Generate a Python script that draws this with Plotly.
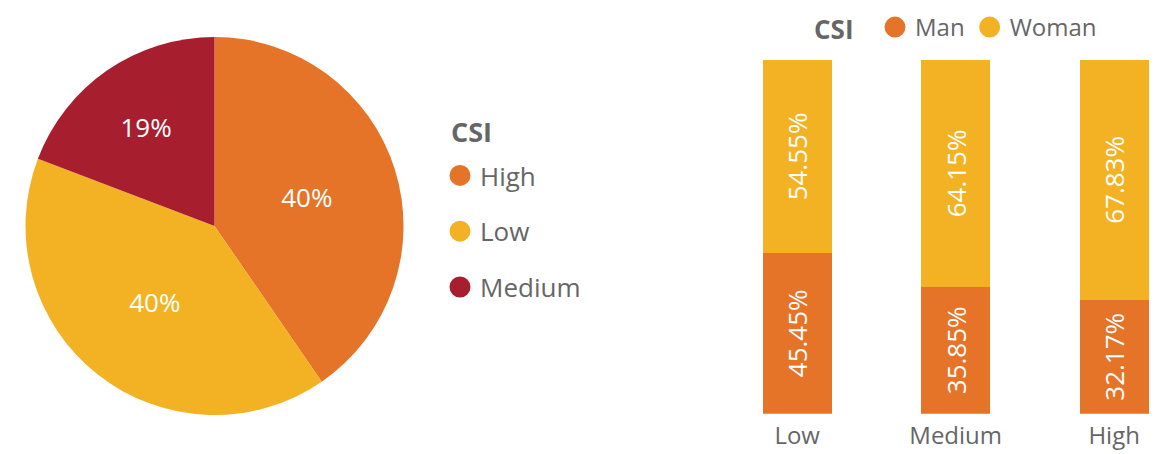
import plotly.graph_objects as go

# CSI share of respondents (pie)
csi_levels = ["High", "Low", "Medium"]
csi_share = [40.4, 40.4, 19.2]

# Gender split within each CSI level (100% stacked columns)
bar_levels = ["Low", "Medium", "High"]
man_pct = [45.45, 35.85, 32.17]
woman_pct = [54.55, 64.15, 67.83]

ORANGE = "#E57328"
YELLOW = "#F3B223"
RED = "#A71E2F"
GREY = "#666666"
FONT = "Open Sans, Segoe UI, sans-serif"

W, H = 1166, 454
pie_colors = {"High": ORANGE, "Low": YELLOW, "Medium": RED}

fig = go.Figure()

fig.add_trace(go.Pie(
    labels=csi_levels,
    values=csi_share,
    sort=False,
    direction="clockwise",
    rotation=0,
    marker=dict(colors=[pie_colors[c] for c in csi_levels], line=dict(width=0)),
    texttemplate="%{percent:.0%}",
    textposition="inside",
    insidetextorientation="horizontal",
    textfont=dict(family=FONT, size=26, color="white"),
    domain=dict(x=[25 / W, 404 / W], y=[(H - 415) / H, (H - 37) / H]),
    showlegend=False,
    hoverinfo="label+percent",
))

# Legend entries (circle markers) for the pie
for lvl in csi_levels:
    fig.add_trace(go.Scatter(
        x=[None], y=[None], mode="markers", name=lvl,
        marker=dict(symbol="circle", size=16, color=pie_colors[lvl],
                    line=dict(width=5, color=pie_colors[lvl])),
        legend="legend", legendgroup="pie_" + lvl,
    ))

bar_text_font = dict(family=FONT, size=26, color="white")

fig.add_trace(go.Bar(
    x=bar_levels, y=man_pct, name="Man",
    marker=dict(color=ORANGE, line=dict(width=0)),
    width=0.435,
    text=[f"{v:.2f}%" for v in man_pct],
    textposition="inside", insidetextanchor="middle", textangle=-90,
    textfont=bar_text_font,
    showlegend=False,
))
fig.add_trace(go.Bar(
    x=bar_levels, y=woman_pct, name="Woman",
    marker=dict(color=YELLOW, line=dict(width=0)),
    width=0.435,
    text=[f"{v:.2f}%" for v in woman_pct],
    textposition="inside", insidetextanchor="middle", textangle=-90,
    textfont=bar_text_font,
    showlegend=False,
))

# Legend entries (circle markers) for the columns
for name, col in [("Man", ORANGE), ("Woman", YELLOW)]:
    fig.add_trace(go.Scatter(
        x=[None], y=[None], mode="markers", name=name,
        marker=dict(symbol="circle", size=16, color=col, line=dict(width=5, color=col)),
        legend="legend2",
    ))

fig.update_layout(
    width=W, height=H,
    margin=dict(l=0, r=0, t=0, b=0),
    paper_bgcolor="white", plot_bgcolor="white",
    barmode="stack",
    uniformtext=dict(minsize=10, mode="show"),
    font=dict(family=FONT, color=GREY),
    xaxis=dict(
        domain=[723 / W, 1.0],
        range=[-0.468, 2.327],
        type="category",
        categoryorder="array", categoryarray=bar_levels,
        showgrid=False, zeroline=False, showline=False,
        ticks="", ticklabelstandoff=5,
        tickfont=dict(family=FONT, size=24, color=GREY),
        automargin=False,
    ),
    yaxis=dict(
        domain=[(H - 413.7) / H, (H - 60) / H],
        range=[0, 100],
        showgrid=False, zeroline=False, showline=False,
        showticklabels=False,
        automargin=False,
    ),
    legend=dict(
        font=dict(family=FONT, size=26, color=GREY),
        orientation="v",
        x=440 / W, xanchor="left",
        y=(H - 152) / H, yanchor="top",
        tracegroupgap=19,
        bgcolor="rgba(0,0,0,0)",
    ),
    legend2=dict(
        title=dict(text="<b>CSI</b>  ", side="left", font=dict(family=FONT, size=26, color=GREY)),
        font=dict(family=FONT, size=24, color=GREY),
        orientation="h",
        x=812 / W, xanchor="left",
        y=(H - 5) / H, yanchor="top",
        tracegroupgap=0,
        bgcolor="rgba(0,0,0,0)",
    ),
    annotations=[dict(
        text="<b>CSI</b>", x=449 / W, y=(H - 131) / H,
        xref="paper", yref="paper", xanchor="left", yanchor="middle",
        showarrow=False, font=dict(family=FONT, size=27, color=GREY),
    )],
)

fig.write_html("out.html")
